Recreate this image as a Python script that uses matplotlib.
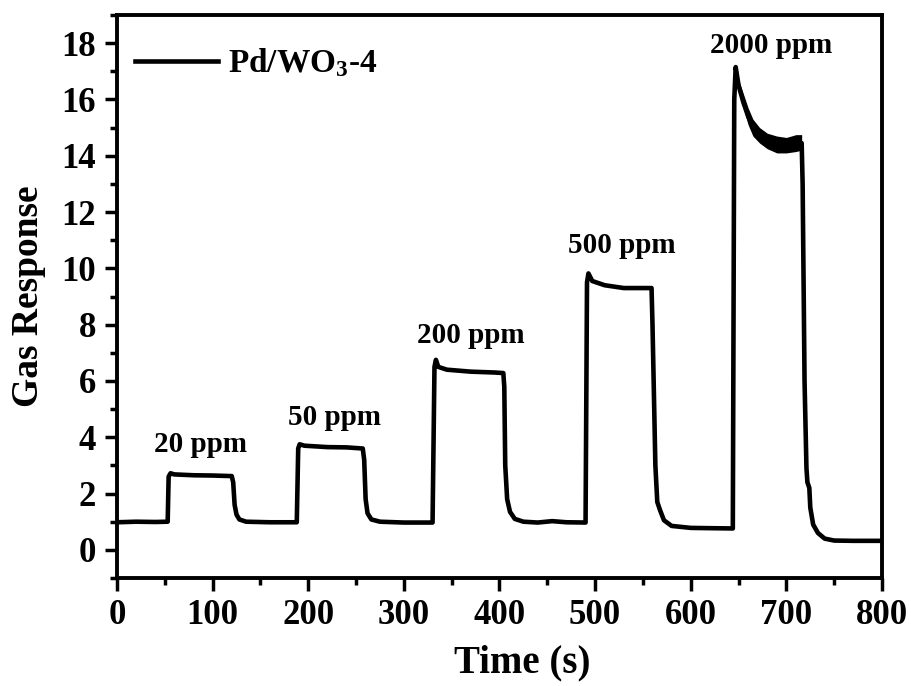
import matplotlib
matplotlib.use("Agg")
import matplotlib.pyplot as plt
from matplotlib.ticker import MultipleLocator

plt.rcParams['font.family'] = ['Liberation Serif', 'DejaVu Serif']
plt.rcParams['font.weight'] = 'bold'
plt.rcParams['mathtext.fontset'] = 'custom'
plt.rcParams['mathtext.rm'] = 'Liberation Serif:bold'
plt.rcParams['mathtext.bf'] = 'Liberation Serif:bold'
plt.rcParams['mathtext.default'] = 'bf'

# ---- data ----
time_s = [0, 20, 40, 53,
          54, 56, 60, 80, 100, 120, 121.5, 123, 125, 128, 135, 160, 188,
          189.5, 191, 196, 220, 240, 257, 258.5, 260, 262, 266, 275, 300, 330,
          332, 333.5, 336, 345, 370, 395, 404, 405, 406, 408, 411, 416, 425, 440, 455, 470, 490,
          491.5, 493, 497, 510, 530, 550, 559, 560, 563, 565, 568, 572, 580, 600, 620, 644,
          645.5, 647, 650, 655, 660, 665, 672, 680, 690, 700, 710, 716, 717, 719, 721, 722, 724,
          725, 728, 733, 740, 750, 770, 800]
response = [0.98, 1.0, 0.99, 1.0,
            2.6, 2.72, 2.68, 2.65, 2.64, 2.62, 2.4, 1.6, 1.25, 1.08, 1.0, 0.98, 0.98,
            3.6, 3.75, 3.7, 3.65, 3.64, 3.6, 3.2, 1.8, 1.3, 1.08, 1.0, 0.97, 0.97,
            6.5, 6.75, 6.5, 6.4, 6.33, 6.3, 6.28, 5.8, 3.0, 1.8, 1.35, 1.1, 1.0, 0.97, 1.02, 0.98, 0.97,
            9.5, 9.82, 9.55, 9.4, 9.3, 9.3, 9.3, 8.0, 3.0, 1.7, 1.4, 1.05, 0.85, 0.78, 0.77, 0.76,
            16.0, 17.15, 16.5, 15.9, 15.4, 15.0, 14.7, 14.5, 14.4, 14.35, 14.45, 14.45, 13.0, 6.0, 2.9, 2.4, 2.2,
            1.5, 0.9, 0.6, 0.4, 0.33, 0.32, 0.32]

# noise envelope of the 2000 ppm plateau
band_t = [650, 655, 660, 665, 672, 680, 690, 700, 710, 716]
band_hi = [16.7, 16.2, 15.7, 15.3, 15.0, 14.8, 14.7, 14.65, 14.75, 14.75]
band_lo = [16.3, 15.7, 15.1, 14.7, 14.45, 14.25, 14.1, 14.1, 14.15, 14.2]

labels = ['20 ppm', '50 ppm', '200 ppm', '500 ppm', '2000 ppm']
label_t = [87, 227, 370, 528, 684]
label_v = [3.75, 4.7, 7.6, 10.8, 17.9]

series_name = 'Pd/WO$_3$-4'

# ---- figure ----
fig = plt.figure(figsize=(9.12, 6.86), dpi=100)
ax = fig.add_axes([117/912, 1-578/686, 765/912, 563/686])

line, = ax.plot(time_s, response, color='black', lw=3.3, solid_joinstyle='round',
                label=series_name)
ax.fill_between(band_t, band_lo, band_hi, color='black', lw=0)

for s, t, v in zip(labels, label_t, label_v):
    ax.text(t, v, s, ha='center', va='center', fontsize=21, fontweight='bold')

ax.set_xlim(0, 800)
ax.set_ylim(-1, 19)
ax.xaxis.set_major_locator(MultipleLocator(100))
ax.xaxis.set_minor_locator(MultipleLocator(50))
ax.yaxis.set_major_locator(MultipleLocator(2))
ax.yaxis.set_minor_locator(MultipleLocator(1))
ax.tick_params(which='major', direction='out', length=9, width=2.5, labelsize=25, pad=6)
ax.tick_params(which='minor', direction='out', length=5, width=2.5)
ax.tick_params(top=False, right=False)
for sp in ax.spines.values():
    sp.set_linewidth(2.8)

ax.set_xlabel('Time (s)', fontsize=28, fontweight='bold')
ax.xaxis.set_label_coords(0.53, -0.118)
ax.set_ylabel('Gas Response', fontsize=27, fontweight='bold')
ax.yaxis.set_label_coords(-0.093, 0.5)

leg = ax.legend(loc='center left', bbox_to_anchor=((135-117)/765, (578-63)/563),
                frameon=False, fontsize=24, handlelength=2.5, handletextpad=0.3,
                borderpad=0, borderaxespad=0)

fig.savefig('out.png', dpi=100)
